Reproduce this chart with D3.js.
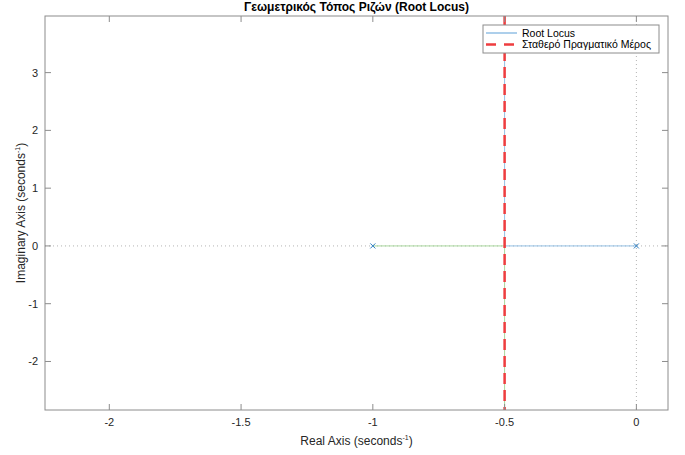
<!DOCTYPE html>
<html><head><meta charset="utf-8">
<script src="https://cdn.jsdelivr.net/npm/d3@7"></script>
<style>body{margin:0;background:#fff;} text{font-family:"Liberation Sans",Arial,Helvetica,sans-serif;}</style>
</head><body>
<svg id="c" width="685" height="455"></svg>
<script>
// Data
const xTicks = [-2, -1.5, -1, -0.5, 0];
const yTicks = [-2, -1, 0, 1, 2, 3];
const xDomain = [-2.244, 0.12];
const yDomain = [-2.84, 3.98];
const poles = [{re: 0, im: 0}, {re: -1, im: 0}];
const branch1Re = [0, -0.5, -0.5];
const branch1Im = [0, 0, 10];
const branch2Re = [-1, -0.5, -0.5];
const branch2Im = [0, 0, -10];
const constantReal = -0.5;
const titleText = "Γεωμετρικός Τόπος Ριζών (Root Locus)";
const legendLabels = ["Root Locus", "Σταθερό Πραγματικό Μέρος"];

const svg = d3.select("#c");
const L = 45, R = 668, T = 16, B = 410;
const x = d3.scaleLinear().domain(xDomain).range([L, R]);
const y = d3.scaleLinear().domain(yDomain).range([B, T]);
const axisCol = "#8c8c8c", textCol = "#262626";

svg.append("defs").append("clipPath").attr("id","clip")
  .append("rect").attr("x",L).attr("y",T).attr("width",R-L).attr("height",B-T);
const g = svg.append("g").attr("clip-path","url(#clip)");

// dotted axis lines
g.append("line").attr("x1",L).attr("x2",R).attr("y1",y(0)).attr("y2",y(0))
  .attr("stroke","#b4b4b4").attr("stroke-width",1).attr("stroke-dasharray","1,3");
g.append("line").attr("x1",x(0)).attr("x2",x(0)).attr("y1",T).attr("y2",B)
  .attr("stroke","#b4b4b4").attr("stroke-width",1).attr("stroke-dasharray","1,3");

const line = d3.line().x(d=>x(d[0])).y(d=>y(d[1]));
const b1 = branch1Re.map((r,i)=>[r, branch1Im[i]]);
const b2 = branch2Re.map((r,i)=>[r, branch2Im[i]]);
g.append("path").attr("d", line(b2)).attr("fill","none").attr("stroke","#a9d79c").attr("stroke-width",1);
g.append("path").attr("d", line(b1)).attr("fill","none").attr("stroke","#92bfe4").attr("stroke-width",1);

// constant real part dashed line
g.append("line").attr("x1",x(constantReal)).attr("x2",x(constantReal)).attr("y1",T).attr("y2",B)
  .attr("stroke","#ee3d3f").attr("stroke-width",2.5).attr("stroke-dasharray","11,6");

// pole markers
const s = 2.5;
poles.forEach(p=>{
  const px = x(p.re), py = y(p.im);
  g.append("path").attr("d",`M${px-s},${py-s}L${px+s},${py+s}M${px-s},${py+s}L${px+s},${py-s}`)
   .attr("stroke","#2a7cc0").attr("stroke-width",1);
});

// axes box
svg.append("rect").attr("x",L).attr("y",T).attr("width",R-L).attr("height",B-T)
  .attr("fill","none").attr("stroke",axisCol).attr("stroke-width",1);

// ticks
const tl = 6;
xTicks.forEach(t=>{
  svg.append("line").attr("x1",x(t)).attr("x2",x(t)).attr("y1",B).attr("y2",B-tl).attr("stroke",axisCol);
  svg.append("line").attr("x1",x(t)).attr("x2",x(t)).attr("y1",T).attr("y2",T+tl).attr("stroke",axisCol);
  svg.append("text").attr("x",x(t)).attr("y",B+16).attr("text-anchor","middle")
    .attr("font-size",11).attr("fill",textCol).text(t);
});
yTicks.forEach(t=>{
  svg.append("line").attr("x1",L).attr("x2",L+tl).attr("y1",y(t)).attr("y2",y(t)).attr("stroke",axisCol);
  svg.append("line").attr("x1",R).attr("x2",R-tl).attr("y1",y(t)).attr("y2",y(t)).attr("stroke",axisCol);
  svg.append("text").attr("x",L-7).attr("y",y(t)+4).attr("text-anchor","end")
    .attr("font-size",11).attr("fill",textCol).text(t);
});

// title
svg.append("text").attr("x",(L+R)/2).attr("y",11).attr("text-anchor","middle")
  .attr("font-size",12).attr("font-weight","bold").attr("fill","#000").text(titleText);

// x label
const xl = svg.append("text").attr("x",(L+R)/2).attr("y",445).attr("text-anchor","middle")
  .attr("font-size",12).attr("fill",textCol);
xl.append("tspan").text("Real Axis (seconds");
xl.append("tspan").attr("font-size",7).attr("dy",-5).text("-1");
xl.append("tspan").attr("dy",5).text(")");

// y label
const yl = svg.append("text").attr("transform",`translate(25,${(T+B)/2}) rotate(-90)`)
  .attr("text-anchor","middle").attr("font-size",12).attr("fill",textCol);
yl.append("tspan").text("Imaginary Axis (seconds");
yl.append("tspan").attr("font-size",7).attr("dy",-5).text("-1");
yl.append("tspan").attr("dy",5).text(")");

// legend
const lg = svg.append("g");
lg.append("rect").attr("x",483).attr("y",25).attr("width",176).attr("height",28)
  .attr("fill","#fff").attr("stroke",axisCol).attr("stroke-width",1);
lg.append("line").attr("x1",486).attr("x2",517).attr("y1",33).attr("y2",33)
  .attr("stroke","#92bfe4").attr("stroke-width",1.5);
lg.append("line").attr("x1",486).attr("x2",517).attr("y1",44.5).attr("y2",44.5)
  .attr("stroke","#ee3d3f").attr("stroke-width",2.5).attr("stroke-dasharray","10,8");
lg.append("text").attr("x",522).attr("y",36.5).attr("font-size",10.5).attr("fill","#000").text(legendLabels[0]);
lg.append("text").attr("x",522).attr("y",48).attr("font-size",10.5).attr("fill","#000").text(legendLabels[1]);
</script>
</body></html>
